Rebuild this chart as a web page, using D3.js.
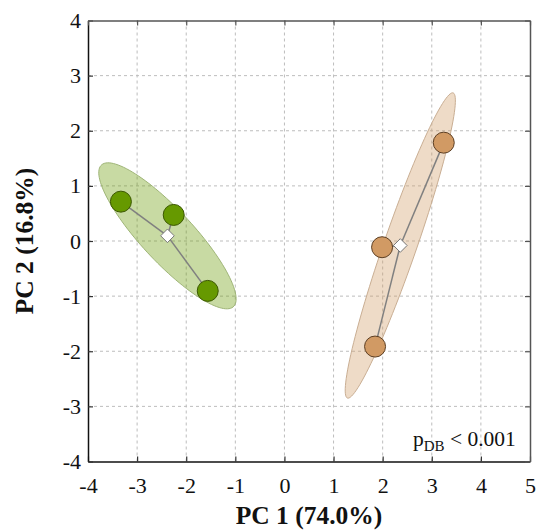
<!DOCTYPE html>
<html>
<head>
<meta charset="utf-8">
<script src="https://cdn.jsdelivr.net/npm/d3@7"></script>
<style>
  html, body { margin: 0; padding: 0; background: #fff; }
  svg { display: block; font-family: "Liberation Serif", "Times New Roman", serif; }
  .axis text { font-family: "Liberation Serif", "Times New Roman", serif; font-size: 22px; fill: #111; }
</style>
</head>
<body>
<svg id="chart" width="539" height="531"></svg>
<script>
// PCA scores (PC1, PC2) for the two groups
const greenPC1 = [-3.33, -2.255, -1.562];
const greenPC2 = [0.714, 0.473, -0.905];
const brownPC1 = [3.244, 1.988, 1.845];
const brownPC2 = [1.784, -0.113, -1.915];

// dispersion ellipses: semi-axes (data units) and orientation (degrees, data space)
const greenEllipse = [1.86, 0.50, -43.2];
const brownEllipse = [2.97, 0.33, 68.7];

const xTicks = [-4, -3, -2, -1, 0, 1, 2, 3, 4, 5];
const yTicks = [-4, -3, -2, -1, 0, 1, 2, 3, 4];
const xTitle = "PC 1 (74.0%)";
const yTitle = "PC 2 (16.8%)";

const margin = { left: 88, right: 9, top: 20.5, bottom: 69.5 };
const W = 539, H = 531;
const iw = W - margin.left - margin.right;
const ih = H - margin.top - margin.bottom;

const svg = d3.select("#chart");
const g = svg.append("g").attr("transform", `translate(${margin.left},${margin.top})`);

const x = d3.scaleLinear().domain([-4, 5]).range([0, iw]);
const y = d3.scaleLinear().domain([-4, 4]).range([ih, 0]);

const fmt = d => String(d);

// dashed grid
g.append("g").selectAll("line.gx")
  .data(xTicks.slice(1, -1)).join("line")
  .attr("x1", d => x(d)).attr("x2", d => x(d))
  .attr("y1", 0).attr("y2", ih)
  .attr("stroke", "#bdbdbd").attr("stroke-width", 1).attr("stroke-dasharray", "3,3");
g.append("g").selectAll("line.gy")
  .data(yTicks.slice(1, -1)).join("line")
  .attr("y1", d => y(d)).attr("y2", d => y(d))
  .attr("x1", 0).attr("x2", iw)
  .attr("stroke", "#bdbdbd").attr("stroke-width", 1).attr("stroke-dasharray", "3,3");

const groups = [
  { pc1: greenPC1, pc2: greenPC2, ell: greenEllipse,
    fill: "#669900", stroke: "#3b5700", ellFill: "#669900", ellStroke: "#9fb577" },
  { pc1: brownPC1, pc2: brownPC2, ell: brownEllipse,
    fill: "#d19a64", stroke: "#5c3e22", ellFill: "#d19a64", ellStroke: "#c9ae93" }
];

groups.forEach(grp => {
  const pts = grp.pc1.map((v, i) => [v, grp.pc2[i]]);
  const cx = d3.mean(grp.pc1), cy = d3.mean(grp.pc2);
  const [a, b, angDeg] = grp.ell;
  const t = angDeg * Math.PI / 180;
  const ring = d3.range(0, 361, 3).map(deg => {
    const s = deg * Math.PI / 180;
    const u = a * Math.cos(s), v = b * Math.sin(s);
    return [cx + u * Math.cos(t) - v * Math.sin(t), cy + u * Math.sin(t) + v * Math.cos(t)];
  });
  const line = d3.line().x(d => x(d[0])).y(d => y(d[1]));
  g.append("path")
    .attr("d", line(ring) + "Z")
    .attr("fill", grp.ellFill).attr("fill-opacity", 0.36)
    .attr("stroke", grp.ellStroke).attr("stroke-width", 1);

  grp.cx = cx; grp.cy = cy; grp.pts = pts;
});

groups.forEach(grp => {
  g.append("g").selectAll("line")
    .data(grp.pts).join("line")
    .attr("x1", d => x(d[0])).attr("y1", d => y(d[1]))
    .attr("x2", x(grp.cx)).attr("y2", y(grp.cy))
    .attr("stroke", "#808080").attr("stroke-width", 1.5);
});

groups.forEach(grp => {
  const px = x(grp.cx), py = y(grp.cy), r = 6.8;
  g.append("path")
    .attr("d", `M${px},${py - r}L${px + r},${py}L${px},${py + r}L${px - r},${py}Z`)
    .attr("fill", "#fff").attr("stroke", "#777").attr("stroke-width", 1);
  g.append("g").selectAll("circle")
    .data(grp.pts).join("circle")
    .attr("cx", d => x(d[0])).attr("cy", d => y(d[1]))
    .attr("r", 10.5)
    .attr("fill", grp.fill).attr("stroke", grp.stroke).attr("stroke-width", 1);
});

// axes with inward ticks on all four sides
const axB = g.append("g").attr("class", "axis").attr("transform", `translate(0,${ih})`)
  .call(d3.axisBottom(x).tickValues(xTicks).tickFormat(fmt).tickSizeInner(-5).tickSizeOuter(0).tickPadding(16));
const axL = g.append("g").attr("class", "axis")
  .call(d3.axisLeft(y).tickValues(yTicks).tickFormat(fmt).tickSizeInner(-5).tickSizeOuter(0).tickPadding(7));
const axT = g.append("g")
  .call(d3.axisTop(x).tickValues(xTicks).tickFormat("").tickSizeInner(-5).tickSizeOuter(0));
const axR = g.append("g").attr("transform", `translate(${iw},0)`)
  .call(d3.axisRight(y).tickValues(yTicks).tickFormat("").tickSizeInner(-5).tickSizeOuter(0));

[axB, axL].forEach(ax => {
  ax.attr("font-family", "'Liberation Serif', 'Times New Roman', serif").attr("font-size", 22);
  ax.select(".domain").attr("stroke", "#111").attr("stroke-width", 1.5);
  ax.selectAll(".tick line").attr("stroke", "#333").attr("stroke-width", 1.2);
});
[axT, axR].forEach(ax => {
  ax.select(".domain").attr("stroke", "#555").attr("stroke-width", 1.5);
  ax.selectAll(".tick line").attr("stroke", "#555").attr("stroke-width", 1.2);
});

// axis titles
svg.append("text")
  .attr("x", margin.left + iw / 2).attr("y", 524)
  .attr("text-anchor", "middle")
  .attr("font-weight", "bold").attr("font-size", 25.5).attr("fill", "#111")
  .text(xTitle);
svg.append("text")
  .attr("transform", `translate(33,${margin.top + ih / 2}) rotate(-90)`)
  .attr("text-anchor", "middle")
  .attr("font-weight", "bold").attr("font-size", 25.5).attr("fill", "#111")
  .text(yTitle);

// significance annotation
const note = svg.append("text")
  .attr("x", 413).attr("y", 446)
  .attr("font-size", 21.5).attr("fill", "#111");
note.append("tspan").text("p");
note.append("tspan").attr("font-size", 15).attr("dy", 5).text("DB");
note.append("tspan").attr("dy", -5).text(" < 0.001");
</script>
</body>
</html>
